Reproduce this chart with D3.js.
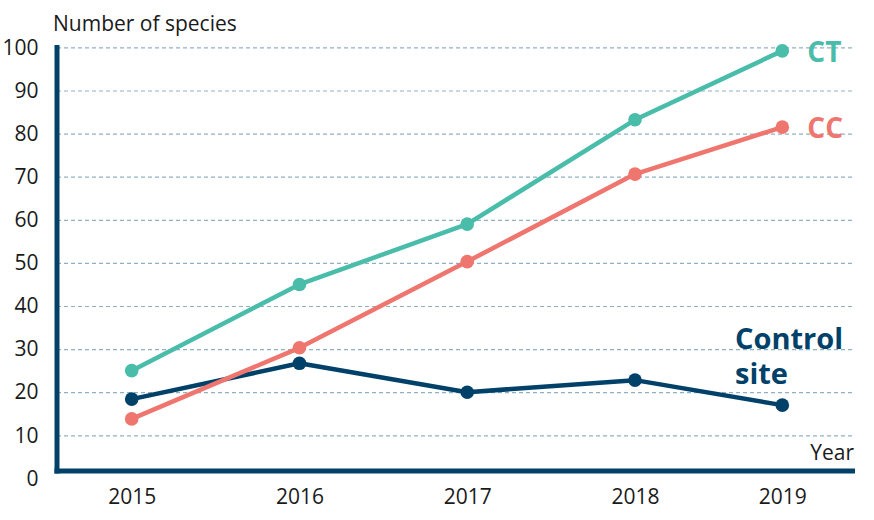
<!DOCTYPE html>
<html>
<head>
<meta charset="utf-8">
<script src="https://cdn.jsdelivr.net/npm/d3@7/dist/d3.min.js"></script>
<style>
  html, body { margin: 0; padding: 0; background: #fff; }
  svg { display: block; font-family: "Open Sans", "Noto Sans", sans-serif; }
</style>
</head>
<body>
<svg id="chart" width="874" height="520"></svg>
<script>
// ---- data ----
const years = [2015, 2016, 2017, 2018, 2019];
const ctValues = [25.0, 45.0, 59.0, 83.2, 99.2];
const ccValues = [13.8, 30.3, 50.3, 70.6, 81.5];
const controlValues = [18.4, 26.7, 20.0, 22.8, 17.0];
const yTicks = [0, 10, 20, 30, 40, 50, 60, 70, 80, 90, 100];
const seriesNames = ["Control site", "CC", "CT"];

// ---- styles ----
const colors = { "CT": "#49bcaa", "CC": "#ef766f", "Control site": "#00416a" };
const gridColor = "#8fb1c2";
const axisColor = "#00416a";
const textColor = "#1a1a1a";

const svg = d3.select("#chart");

const x = d3.scaleLinear()
  .domain([2015, 2018, 2019])
  .range([131.7, 635, 782.3]);
const y = d3.scaleLinear().domain([0, 100]).range([478.4, 47.4]);

const plotLeft = 57, plotRight = 855;

// gridlines
const grid = svg.append("g").attr("transform", `translate(${plotLeft},0)`)
  .call(d3.axisLeft(y).tickValues(yTicks.filter(d => d > 0)).tickSize(-(plotRight - plotLeft)).tickFormat(""));
grid.select(".domain").remove();
grid.selectAll(".tick line")
  .attr("stroke", gridColor)
  .attr("stroke-width", 1.2)
  .attr("stroke-dasharray", "4,3");

// y tick labels
const yAxis = svg.append("g").attr("transform", "translate(38.5,0)")
  .call(d3.axisLeft(y).tickValues(yTicks).tickSize(0).tickPadding(0));
yAxis.select(".domain").remove();
yAxis.selectAll("text")
  .attr("fill", textColor)
  .style("font-size", "21px")
  .style("font-family", "'Open Sans', sans-serif");

// x tick labels
const xAxis = svg.append("g").attr("transform", "translate(0,489)")
  .call(d3.axisBottom(x).tickValues(years).tickFormat(d3.format("d")).tickSize(0).tickPadding(0));
xAxis.select(".domain").remove();
xAxis.selectAll("text")
  .attr("fill", textColor)
  .style("font-size", "21px")
  .style("font-family", "'Open Sans', sans-serif");

// axis lines
const axisY = y(0) - 7.4;
svg.append("line")
  .attr("x1", plotLeft).attr("x2", plotLeft)
  .attr("y1", y(100) - 2.5).attr("y2", axisY + 2.5)
  .attr("stroke", axisColor).attr("stroke-width", 5);
svg.append("line")
  .attr("x1", plotLeft - 2.5).attr("x2", plotRight)
  .attr("y1", axisY).attr("y2", axisY)
  .attr("stroke", axisColor).attr("stroke-width", 5);

// axis titles
svg.append("text")
  .attr("x", 53).attr("y", 31)
  .attr("fill", textColor)
  .style("font-size", "21px")
  .text("Number of species");
svg.append("text")
  .attr("x", 854).attr("y", 460)
  .attr("text-anchor", "end")
  .attr("fill", textColor)
  .style("font-size", "21px")
  .text("Year");

// series
const seriesData = {
  "Control site": controlValues,
  "CC": ccValues,
  "CT": ctValues
};
const line = d3.line().x(d => x(d.year)).y(d => y(d.value));

seriesNames.forEach(name => {
  const pts = years.map((yr, i) => ({ year: yr, value: seriesData[name][i] }));
  const g = svg.append("g");
  g.append("path")
    .datum(pts)
    .attr("d", line)
    .attr("fill", "none")
    .attr("stroke", colors[name])
    .attr("stroke-width", 4.5)
    .attr("stroke-linejoin", "round");
  g.selectAll("circle")
    .data(pts)
    .enter().append("circle")
    .attr("cx", d => x(d.year))
    .attr("cy", d => y(d.value))
    .attr("r", 6.8)
    .attr("fill", colors[name]);
});

// series labels
const lastIdx = years.length - 1;
svg.append("text")
  .attr("x", x(years[lastIdx]) + 25).attr("y", y(ctValues[lastIdx]) + 11)
  .attr("fill", colors["CT"])
  .style("font-size", "28px").style("font-weight", "bold")
  .text("CT");
svg.append("text")
  .attr("x", x(years[lastIdx]) + 25).attr("y", y(ccValues[lastIdx]) + 11)
  .attr("fill", colors["CC"])
  .style("font-size", "28px").style("font-weight", "bold")
  .text("CC");
const ctl = svg.append("text")
  .attr("fill", colors["Control site"])
  .style("font-size", "29px").style("font-weight", "bold");
ctl.append("tspan").attr("x", 735).attr("y", 349).text("Control");
ctl.append("tspan").attr("x", 735).attr("y", 384).text("site");
</script>
</body>
</html>
